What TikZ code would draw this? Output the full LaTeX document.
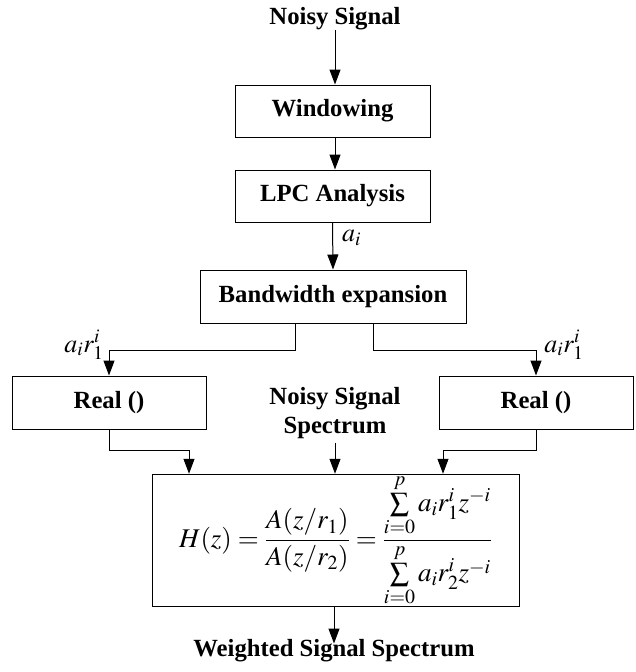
\documentclass[tikz,border=0pt]{standalone}
\usepackage{amsmath}
\usepackage{mathptmx}
\usepackage{fontspec}
\setmainfont{Liberation Serif}
\usetikzlibrary{arrows.meta}

\tikzset{
  box/.style={draw, line width=1pt, inner sep=0pt, minimum height=53pt,
    font=\fontsize{24.7}{29}\selectfont\bfseries},
  lbl/.style={inner sep=0pt, font=\fontsize{24.7}{29}\selectfont\bfseries},
  mlbl/.style={inner sep=0pt, font=\fontsize{26}{30}\selectfont},
  arr/.style={line width=1pt, -{Triangle[length=15pt,width=11pt]}},
  wire/.style={line width=1pt}
}

\begin{document}
\begin{tikzpicture}[x=1pt,y=-1pt]
\useasboundingbox (0,0) rectangle (635,672);

% processing chain
\node[lbl] (nsig) at (335,19) {Noisy Signal};
\node[box, minimum width=195pt, minimum height=52pt] (win) at (332.5,111) {Windowing};
\node[box, minimum width=195pt, minimum height=52pt] (lpc) at (332.5,196) {LPC Analysis};
\node[box, minimum width=266pt] (bw) at (333,296.5) {Bandwidth expansion};
\node[box, minimum width=194pt] (rl) at (109,402.5) {Real ()};
\node[box, minimum width=194pt] (rr) at (536,402.5) {Real ()};
\node[lbl, align=center] (nss) at (335,413) {Noisy Signal\\Spectrum};
\node[draw, line width=1pt, minimum width=367pt, minimum height=125pt, inner sep=0pt]
  (hb) at (335.5,540.5)
  {\fontsize{27}{31}\selectfont
   $H(z)=\dfrac{A(z/r_1)}{A(z/r_2)}=\dfrac{\sum\limits_{i=0}^{p} a_i r_1^i z^{-i}}{\sum\limits_{i=0}^{p} a_i r_2^i z^{-i}}$};
\node[lbl] (wss) at (334,651) {Weighted Signal Spectrum};

% helper points on the box edges
\coordinate (bwl) at ([xshift=-38pt]bw.south);
\coordinate (bwr) at ([xshift=40pt]bw.south);
\coordinate (hbl) at ([xshift=-146.5pt]hb.north);
\coordinate (hbr) at ([xshift=107.5pt]hb.north);

% connectors
\draw[arr] (nsig.south) -- (nsig.south |- win.north);
\draw[arr] (win.south -| nsig.south) -- (lpc.north -| nsig.south);
\draw[arr] (lpc.south) -- (bw.north);
\draw[arr] (bwl) -- ++(0,27) -| (rl.north);
\draw[arr] (bwr) -- ++(0,27) -| (rr.north);
\draw[arr] (rl.south) -- ++(0,21) -| (hbl);
\draw[arr] (rr.south) -- ++(0,21) -| (hbr);
\draw[arr] ([yshift=-4pt]nss.south) -- (nss.south |- hb.north);
\draw[arr] (hb.south -| wss.north) -- ([yshift=-4pt]wss.north);

% coefficient labels
\node[mlbl, anchor=west] (ai) at (342,238) {$a_i$};
\node[mlbl] (al) at (84,345) {$a_i r_1^i$};
\node[mlbl] (ar) at (564,345) {$a_i r_1^i$};
\end{tikzpicture}
\end{document}
